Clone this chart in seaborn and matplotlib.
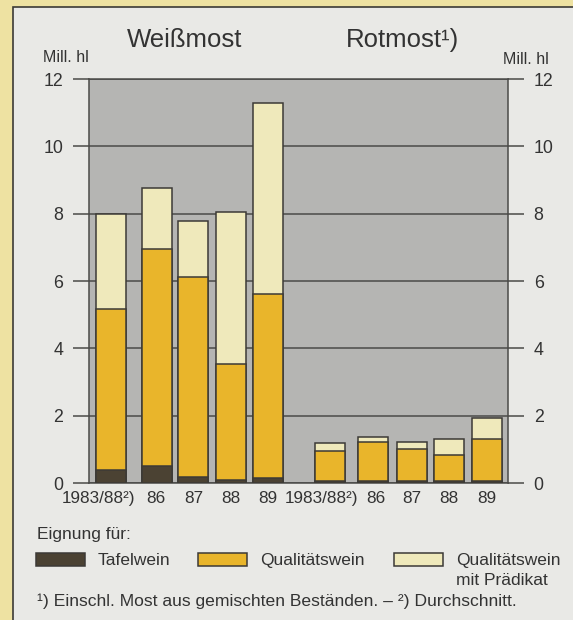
import numpy as np
import pandas as pd
import matplotlib
matplotlib.use("Agg")
import matplotlib.pyplot as plt
from matplotlib.patches import Rectangle
import seaborn as sns

# ---- data (Mill. hl) ----
years = ["1983/88²)", "86", "87", "88", "89"]
weiss_tafel = [0.38, 0.50, 0.18, 0.10, 0.15]
weiss_qual = [4.79, 6.45, 5.94, 3.43, 5.45]
weiss_praed = [2.83, 1.81, 1.66, 4.52, 5.68]
rot_tafel = [0.05, 0.05, 0.05, 0.05, 0.05]
rot_qual = [0.90, 1.17, 0.95, 0.79, 1.26]
rot_praed = [0.24, 0.15, 0.22, 0.47, 0.62]

yticks = [0, 2, 4, 6, 8, 10, 12]

# ---- layout (pixel-like x units) ----
bar_x = [111, 156.5, 193, 231, 268, 329.5, 373, 411.5, 448.5, 487]
label_x = [98.5, 156, 194, 231, 268, 322, 376, 412, 449, 487]
bar_px = 30.0

C_BG = "#eee2a2"
C_PANEL = "#e9e9e6"
C_PLOT = "#b5b5b3"
C_TAFEL = "#4b4233"
C_QUAL = "#e9b52b"
C_PRAED = "#efe9bb"
C_EDGE = "#3c3a36"
C_TEXT = "#333333"

sns.set_theme(style="white")
plt.rcParams["font.family"] = ["Liberation Sans", "DejaVu Sans"]

tafel = weiss_tafel + rot_tafel
qual = weiss_qual + rot_qual
praed = weiss_praed + rot_praed
df = pd.DataFrame({"x": bar_x, "tafel": tafel, "qual": qual, "praed": praed})
df["c_qual"] = df["tafel"] + df["qual"]
df["c_total"] = df["c_qual"] + df["praed"]

fig = plt.figure(figsize=(5.73, 6.2), dpi=100)
fig.patch.set_facecolor(C_BG)
panel = Rectangle((13 / 573, -0.05), 1.0, 1 - 7 / 620 + 0.05,
                  transform=fig.transFigure, facecolor=C_PANEL,
                  edgecolor=C_EDGE, linewidth=1.2, zorder=-5)
fig.patches.append(panel)

ax = fig.add_axes([89 / 573, 1 - 483 / 620, 419 / 573, 404 / 620])
ax.set_zorder(1)
ax.set_facecolor(C_PLOT)

min_sp = np.min(np.diff(sorted(bar_x)))
w = bar_px / min_sp
for col, color in [("c_total", C_PRAED), ("c_qual", C_QUAL), ("tafel", C_TAFEL)]:
    sns.barplot(data=df, x="x", y=col, native_scale=True, width=w, color=color,
                edgecolor=C_EDGE, linewidth=1.1, saturation=1, errorbar=None,
                ax=ax, zorder=3)

ax.set_xlim(89, 508)
ax.set_ylim(0, 12)
ax.set_yticks(yticks)
ax.set_yticklabels([str(t) for t in yticks])
ax.set_xticks(label_x)
ax.set_xticklabels(years + years)
ax.set_xlabel("")
ax.set_ylabel("")
ax.yaxis.grid(True, color="#4a4a48", linewidth=1.1)
ax.xaxis.grid(False)
ax.set_axisbelow(True)
ax.tick_params(axis="y", left=True, right=True, labelleft=True, labelright=True,
               length=11.5, width=1.1, color="#4a4a48", pad=7,
               labelsize=12.8, labelcolor=C_TEXT)
ax.tick_params(axis="x", bottom=False, length=0, pad=6, labelsize=12.3,
               labelcolor=C_TEXT)
for s in ax.spines.values():
    s.set_visible(True)
    s.set_color("#4a4a48")
    s.set_linewidth(1.1)

# titles and units
fig.text(185 / 573, 1 - 40 / 620, "Weißmost", fontsize=18.5, color=C_TEXT,
         ha="center", va="center")
fig.text(402 / 573, 1 - 40 / 620, "Rotmost¹)", fontsize=18.5, color=C_TEXT,
         ha="center", va="center")
fig.text(43 / 573, 1 - 57 / 620, "Mill. hl", fontsize=11.5, color=C_TEXT,
         ha="left", va="center")
fig.text(503 / 573, 1 - 60 / 620, "Mill. hl", fontsize=11.5, color=C_TEXT,
         ha="left", va="center")

# legend
fig.text(37 / 573, 1 - 534 / 620, "Eignung für:", fontsize=12.5, color=C_TEXT,
         ha="left", va="center")
legend_items = [(36, "Tafelwein", C_TAFEL), (198, "Qualitätswein", C_QUAL),
                (394, "Qualitätswein\nmit Prädikat", C_PRAED)]
for x0, lab, c in legend_items:
    fig.patches.append(Rectangle((x0 / 573, 1 - 566 / 620), 49 / 573, 13 / 620,
                                 transform=fig.transFigure, facecolor=c,
                                 edgecolor=C_EDGE, linewidth=1.1, zorder=2))
    fig.text((x0 + 62) / 573, 1 - 553 / 620, lab, fontsize=12.5, color=C_TEXT,
             ha="left", va="top", linespacing=1.4)

fig.text(37 / 573, 1 - 601 / 620,
         "¹) Einschl. Most aus gemischten Beständen. – ²) Durchschnitt.",
         fontsize=12.6, color=C_TEXT, ha="left", va="center")

fig.savefig("out.png", dpi=100, facecolor=fig.get_facecolor())
